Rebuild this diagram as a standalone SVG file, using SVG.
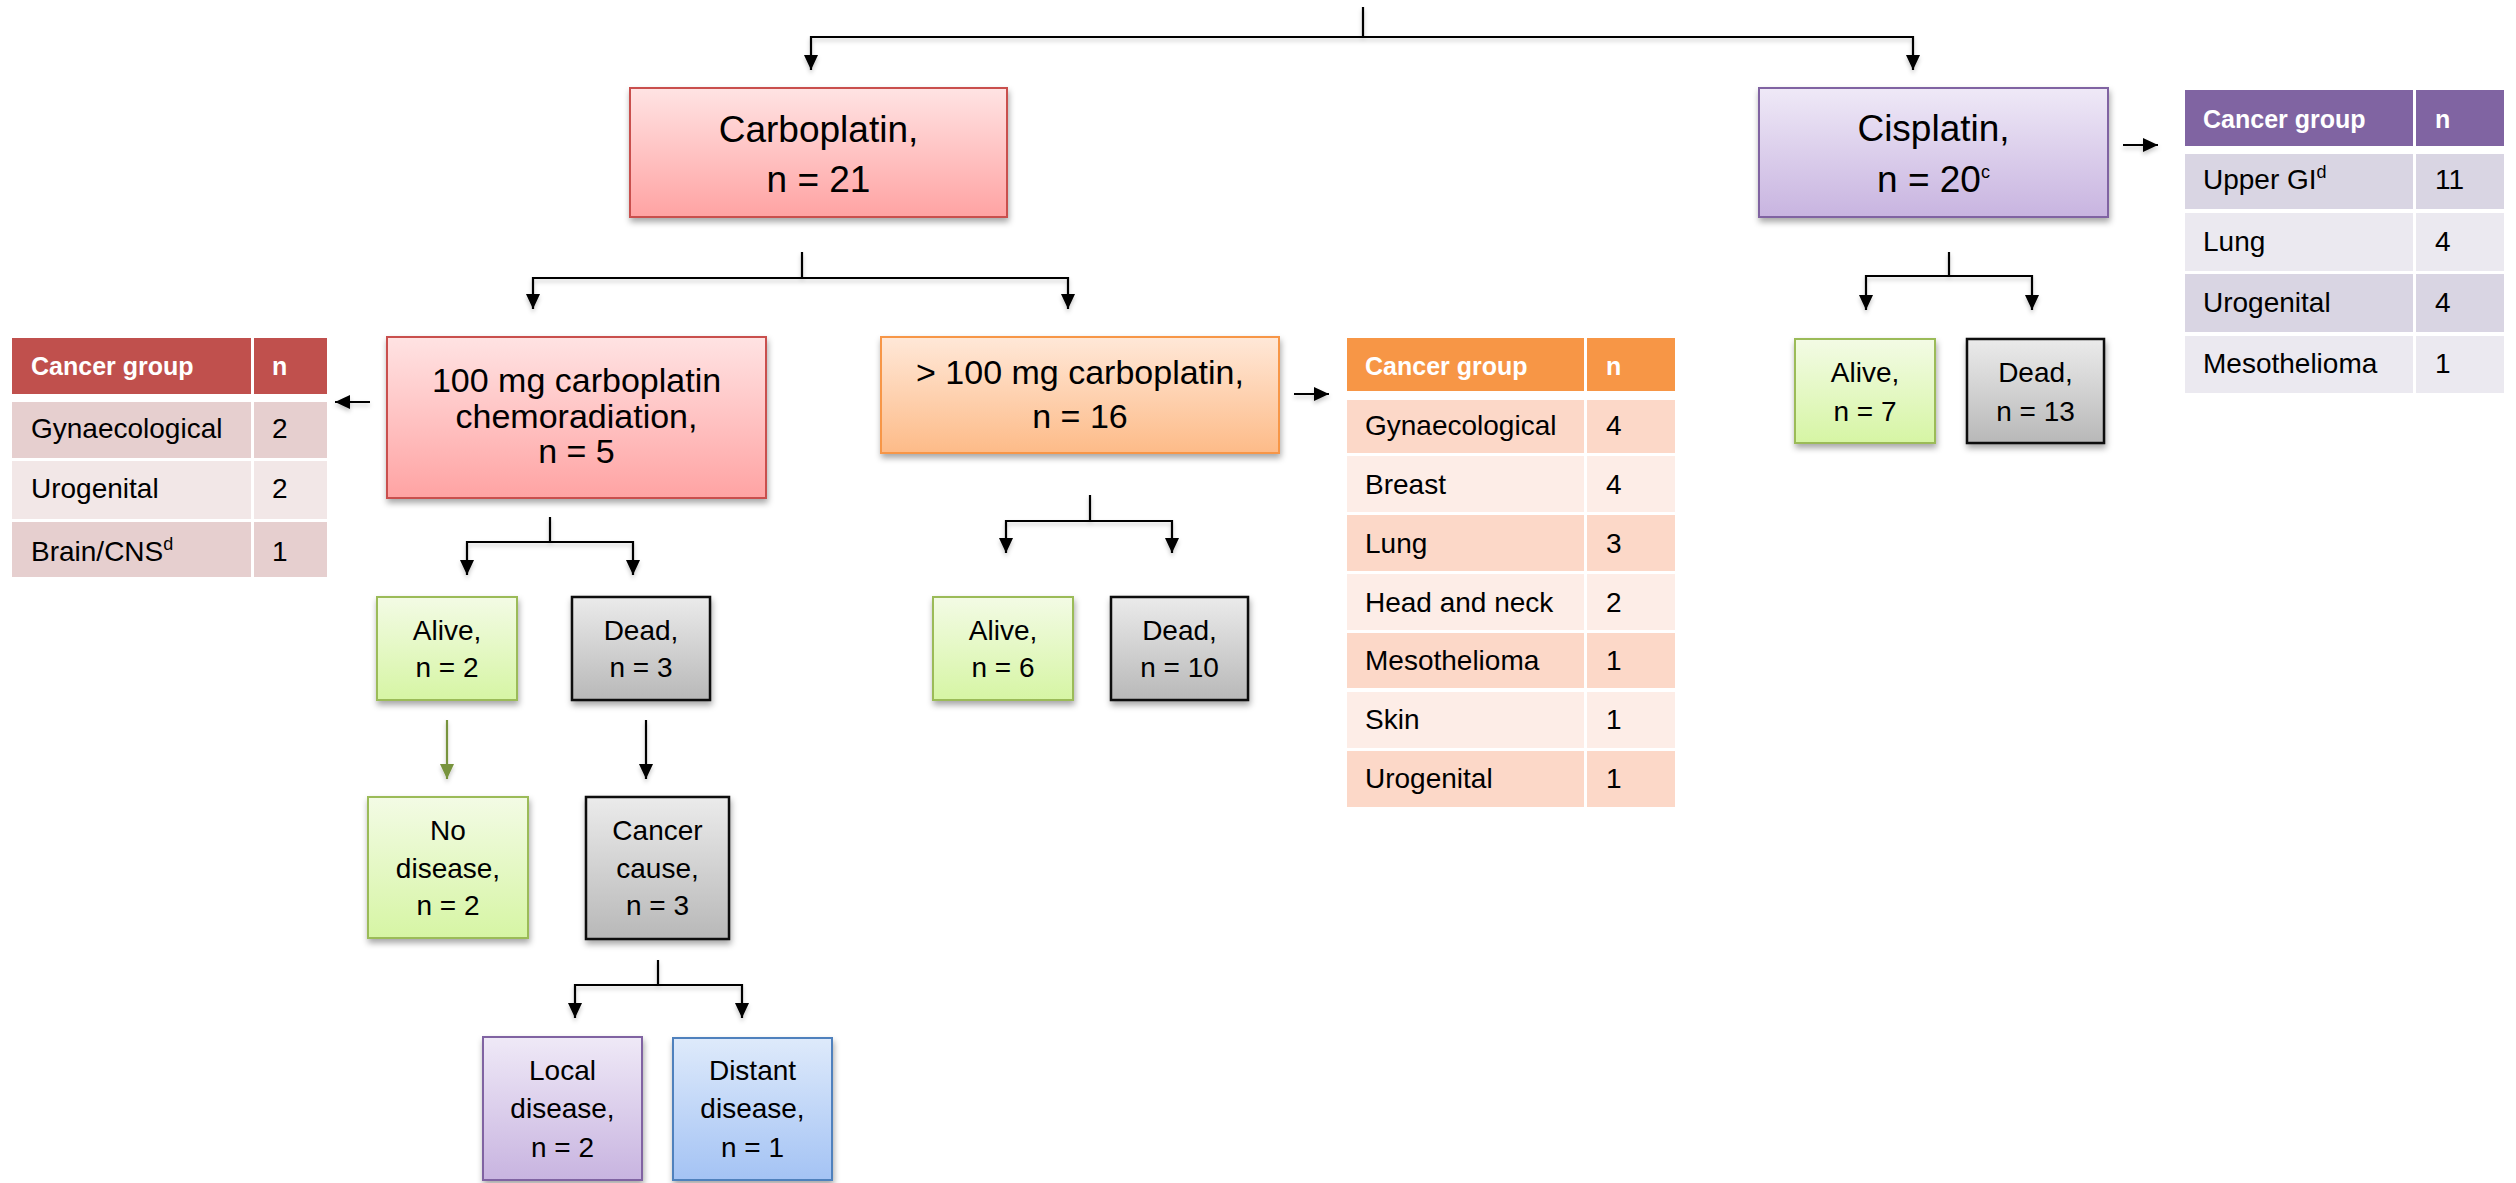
<svg xmlns="http://www.w3.org/2000/svg" width="2516" height="1183" viewBox="0 0 2516 1183">
<defs>
  <linearGradient id="gRed" x1="0" y1="0" x2="0" y2="1"><stop offset="0" stop-color="#FFE3E3"/><stop offset="1" stop-color="#FFA3A3"/></linearGradient>
  <linearGradient id="gOrange" x1="0" y1="0" x2="0" y2="1"><stop offset="0" stop-color="#FFE8D8"/><stop offset="1" stop-color="#FDBB88"/></linearGradient>
  <linearGradient id="gPurple" x1="0" y1="0" x2="0" y2="1"><stop offset="0" stop-color="#EFE9F7"/><stop offset="1" stop-color="#C8B4E0"/></linearGradient>
  <linearGradient id="gGreen" x1="0" y1="0" x2="0" y2="1"><stop offset="0" stop-color="#F3FBE5"/><stop offset="1" stop-color="#D6F5A4"/></linearGradient>
  <linearGradient id="gGray" x1="0" y1="0" x2="0" y2="1"><stop offset="0" stop-color="#EBEBEB"/><stop offset="1" stop-color="#B8B8B8"/></linearGradient>
  <linearGradient id="gBlue" x1="0" y1="0" x2="0" y2="1"><stop offset="0" stop-color="#DEEAFB"/><stop offset="1" stop-color="#A4C3F4"/></linearGradient>
  <filter id="sh" x="-10%" y="-10%" width="130%" height="140%">
    <feDropShadow dx="1" dy="4" stdDeviation="3" flood-color="#000" flood-opacity="0.35"/>
  </filter>
  <filter id="lsh" filterUnits="userSpaceOnUse" x="0" y="0" width="2516" height="1183">
    <feDropShadow dx="0" dy="3" stdDeviation="2" flood-color="#000" flood-opacity="0.22"/>
  </filter>
  <marker id="ah" viewBox="0 0 15 14" refX="15" refY="7" markerWidth="15" markerHeight="14" markerUnits="userSpaceOnUse" orient="auto">
    <path d="M0,0 L15,7 L0,14 z" fill="#000"/>
  </marker>
  <marker id="ahg" viewBox="0 0 15 14" refX="15" refY="7" markerWidth="15" markerHeight="14" markerUnits="userSpaceOnUse" orient="auto">
    <path d="M0,0 L15,7 L0,14 z" fill="#77933C"/>
  </marker>
</defs>
<style>
  text { font-family: "Liberation Sans", Arial, sans-serif; fill: #000; }
  .node text { text-anchor: middle; }
  .big { font-size: 37px; }
  .mid { font-size: 34px; }
  .sm { font-size: 28px; }
  .box { stroke-width: 2; filter: url(#sh); }
  .red { fill: url(#gRed); stroke: #C9504D; }
  .orange { fill: url(#gOrange); stroke: #F79646; }
  .purple { fill: url(#gPurple); stroke: #8064A2; }
  .green { fill: url(#gGreen); stroke: #9BBB59; }
  .gray { fill: url(#gGray); stroke: #111; stroke-width: 2.5; }
  .blue { fill: url(#gBlue); stroke: #4F81BD; }
  .conn path { fill: none; stroke: #000; stroke-width: 2.2; }
  .conn path.arr { marker-end: url(#ah); }
  .conn path.garr { stroke: #77933C; marker-end: url(#ahg); }
  .tbl text { font-size: 28px; }
  .tbl .hd { fill: #fff; font-weight: bold; font-size: 25px; }
  .sup { font-size: 18px; }
  .rh { fill: #C0504D; } .r1 { fill: #E6CFCF; } .r2 { fill: #F2E7E7; }
  .oh { fill: #F79646; } .o1 { fill: #FCD8C8; } .o2 { fill: #FDEDE7; }
  .ph { fill: #8064A2; } .p1 { fill: #D9D5E3; } .p2 { fill: #EBE9F0; }
</style>

<g id="connectors" class="conn" filter="url(#lsh)">
  <path d="M1363,7 V37"/>
  <path class="arr" d="M1363,37 H811 V70"/>
  <path class="arr" d="M1363,37 H1913 V70"/>
  <path d="M802,252 V278"/>
  <path class="arr" d="M802,278 H533 V309"/>
  <path class="arr" d="M802,278 H1068 V309"/>
  <path d="M1949,252 V276"/>
  <path class="arr" d="M1949,276 H1866 V310"/>
  <path class="arr" d="M1949,276 H2032 V310"/>
  <path d="M550,517 V542"/>
  <path class="arr" d="M550,542 H467 V575"/>
  <path class="arr" d="M550,542 H633 V575"/>
  <path d="M1090,495 V521"/>
  <path class="arr" d="M1090,521 H1006 V553"/>
  <path class="arr" d="M1090,521 H1172 V553"/>
  <path class="garr" d="M447,720 V779"/>
  <path class="arr" d="M646,720 V779"/>
  <path d="M658,960 V985"/>
  <path class="arr" d="M658,985 H575 V1018"/>
  <path class="arr" d="M658,985 H742 V1018"/>
  <path class="arr" d="M370,402 H335"/>
  <path class="arr" d="M1294,394 H1329"/>
  <path class="arr" d="M2123,145 H2158"/>
</g>

<g id="carboplatin" class="node">
  <rect class="box red" x="630" y="88" width="377" height="129"/>
  <text class="big" x="818.5" y="142">Carboplatin,</text>
  <text class="big" x="818.5" y="192">n = 21</text>
</g>
<g id="cisplatin" class="node">
  <rect class="box purple" x="1759" y="88" width="349" height="129"/>
  <text class="big" x="1933.5" y="141">Cisplatin,</text>
  <text class="big" x="1933.5" y="192">n = 20<tspan class="sup" font-size="22" dy="-14">c</tspan></text>
</g>
<g id="carbo100" class="node">
  <rect class="box red" x="387" y="337" width="379" height="161"/>
  <text class="mid" x="576.5" y="392">100 mg carboplatin</text>
  <text class="mid" x="576.5" y="428">chemoradiation,</text>
  <text class="mid" x="576.5" y="463">n = 5</text>
</g>
<g id="carboGt100" class="node">
  <rect class="box orange" x="881" y="337" width="398" height="116"/>
  <text class="mid" x="1080" y="384">&gt; 100 mg carboplatin,</text>
  <text class="mid" x="1080" y="428">n = 16</text>
</g>
<g id="alive1" class="node">
  <rect class="box green" x="377" y="597" width="140" height="103"/>
  <text class="sm" x="447" y="640">Alive,</text>
  <text class="sm" x="447" y="677">n = 2</text>
</g>
<g id="dead1" class="node">
  <rect class="box gray" x="572" y="597" width="138" height="103"/>
  <text class="sm" x="641" y="640">Dead,</text>
  <text class="sm" x="641" y="677">n = 3</text>
</g>
<g id="nodisease" class="node">
  <rect class="box green" x="368" y="797" width="160" height="141"/>
  <text class="sm" x="448" y="840">No</text>
  <text class="sm" x="448" y="878">disease,</text>
  <text class="sm" x="448" y="915">n = 2</text>
</g>
<g id="cancercause" class="node">
  <rect class="box gray" x="586" y="797" width="143" height="142"/>
  <text class="sm" x="657.5" y="840">Cancer</text>
  <text class="sm" x="657.5" y="878">cause,</text>
  <text class="sm" x="657.5" y="915">n = 3</text>
</g>
<g id="localdisease" class="node">
  <rect class="box purple" x="483" y="1037" width="159" height="143"/>
  <text class="sm" x="562.5" y="1080">Local</text>
  <text class="sm" x="562.5" y="1118">disease,</text>
  <text class="sm" x="562.5" y="1157">n = 2</text>
</g>
<g id="distantdisease" class="node">
  <rect class="box blue" x="673" y="1038" width="159" height="142"/>
  <text class="sm" x="752.5" y="1080">Distant</text>
  <text class="sm" x="752.5" y="1118">disease,</text>
  <text class="sm" x="752.5" y="1157">n = 1</text>
</g>
<g id="alive2" class="node">
  <rect class="box green" x="933" y="597" width="140" height="103"/>
  <text class="sm" x="1003" y="640">Alive,</text>
  <text class="sm" x="1003" y="677">n = 6</text>
</g>
<g id="dead2" class="node">
  <rect class="box gray" x="1111" y="597" width="137" height="103"/>
  <text class="sm" x="1179.5" y="640">Dead,</text>
  <text class="sm" x="1179.5" y="677">n = 10</text>
</g>
<g id="alive3" class="node">
  <rect class="box green" x="1795" y="339" width="140" height="104"/>
  <text class="sm" x="1865" y="382">Alive,</text>
  <text class="sm" x="1865" y="421">n = 7</text>
</g>
<g id="dead3" class="node">
  <rect class="box gray" x="1967" y="339" width="137" height="104"/>
  <text class="sm" x="2035.5" y="382">Dead,</text>
  <text class="sm" x="2035.5" y="421">n = 13</text>
</g>

<g id="table-carbo100" class="tbl">
  <rect class="rh" x="12" y="338" width="239" height="56"/><rect class="rh" x="254" y="338" width="73" height="56"/>
  <rect class="r1" x="12" y="402" width="239" height="56"/><rect class="r1" x="254" y="402" width="73" height="56"/>
  <rect class="r2" x="12" y="461" width="239" height="58"/><rect class="r2" x="254" y="461" width="73" height="58"/>
  <rect class="r1" x="12" y="522" width="239" height="55"/><rect class="r1" x="254" y="522" width="73" height="55"/>
  <text class="hd" x="31" y="375">Cancer group</text><text class="hd" x="272" y="375">n</text>
  <text x="31" y="438">Gynaecological</text><text x="272" y="438">2</text>
  <text x="31" y="498">Urogenital</text><text x="272" y="498">2</text>
  <text x="31" y="561">Brain/CNS<tspan class="sup" dy="-11">d</tspan></text><text x="272" y="561">1</text>
</g>

<g id="table-carboGt100" class="tbl">
  <rect class="oh" x="1347" y="338" width="237" height="53"/><rect class="oh" x="1587" y="338" width="88" height="53"/>
  <rect class="o1" x="1347" y="400" width="237" height="53"/><rect class="o1" x="1587" y="400" width="88" height="53"/>
  <rect class="o2" x="1347" y="456" width="237" height="56"/><rect class="o2" x="1587" y="456" width="88" height="56"/>
  <rect class="o1" x="1347" y="515" width="237" height="56"/><rect class="o1" x="1587" y="515" width="88" height="56"/>
  <rect class="o2" x="1347" y="574" width="237" height="56"/><rect class="o2" x="1587" y="574" width="88" height="56"/>
  <rect class="o1" x="1347" y="633" width="237" height="55"/><rect class="o1" x="1587" y="633" width="88" height="55"/>
  <rect class="o2" x="1347" y="692" width="237" height="56"/><rect class="o2" x="1587" y="692" width="88" height="56"/>
  <rect class="o1" x="1347" y="751" width="237" height="56"/><rect class="o1" x="1587" y="751" width="88" height="56"/>
  <text class="hd" x="1365" y="375">Cancer group</text><text class="hd" x="1606" y="375">n</text>
  <text x="1365" y="435">Gynaecological</text><text x="1606" y="435">4</text>
  <text x="1365" y="494">Breast</text><text x="1606" y="494">4</text>
  <text x="1365" y="553">Lung</text><text x="1606" y="553">3</text>
  <text x="1365" y="612">Head and neck</text><text x="1606" y="612">2</text>
  <text x="1365" y="670">Mesothelioma</text><text x="1606" y="670">1</text>
  <text x="1365" y="729">Skin</text><text x="1606" y="729">1</text>
  <text x="1365" y="788">Urogenital</text><text x="1606" y="788">1</text>
</g>

<g id="table-cisplatin" class="tbl">
  <rect class="ph" x="2185" y="90" width="228" height="56"/><rect class="ph" x="2416" y="90" width="88" height="56"/>
  <rect class="p1" x="2185" y="154" width="228" height="55"/><rect class="p1" x="2416" y="154" width="88" height="55"/>
  <rect class="p2" x="2185" y="213" width="228" height="58"/><rect class="p2" x="2416" y="213" width="88" height="58"/>
  <rect class="p1" x="2185" y="274" width="228" height="58"/><rect class="p1" x="2416" y="274" width="88" height="58"/>
  <rect class="p2" x="2185" y="336" width="228" height="57"/><rect class="p2" x="2416" y="336" width="88" height="57"/>
  <text class="hd" x="2203" y="128">Cancer group</text><text class="hd" x="2435" y="128">n</text>
  <text x="2203" y="189">Upper GI<tspan class="sup" dy="-11">d</tspan></text><text x="2435" y="189">11</text>
  <text x="2203" y="251">Lung</text><text x="2435" y="251">4</text>
  <text x="2203" y="312">Urogenital</text><text x="2435" y="312">4</text>
  <text x="2203" y="373">Mesothelioma</text><text x="2435" y="373">1</text>
</g>
</svg>
